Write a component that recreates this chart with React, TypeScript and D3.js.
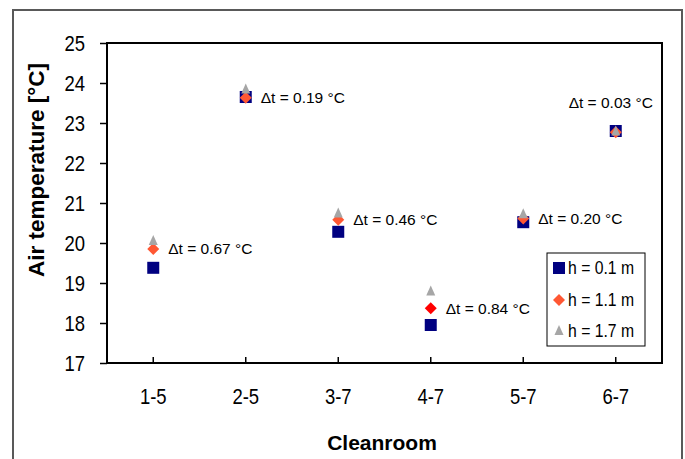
import React, { useEffect, useRef } from 'react';
import * as d3 from 'd3';

// Cleanroom air temperature at three heights
const categories = ['1-5', '2-5', '3-7', '4-7', '5-7', '6-7'];
const tempH01 = [19.38, 23.65, 20.28, 17.95, 20.52, 22.8];
const tempH11 = [19.85, 23.63, 20.58, 18.37, 20.61, 22.77];
const tempH17 = [20.05, 23.84, 20.74, 18.79, 20.72, 22.79];
const deltaLabels = [
  'Δt = 0.67 °C',
  'Δt = 0.19 °C',
  'Δt = 0.46 °C',
  'Δt = 0.84 °C',
  'Δt = 0.20 °C',
  'Δt = 0.03 °C',
];
const yTicks = [17, 18, 19, 20, 21, 22, 23, 24, 25];
const seriesNames = ['h = 0.1 m', 'h = 1.1 m', 'h = 1.7 m'];

const W = 685;
const H = 459;
const margin = { top: 43, right: 23, bottom: 96, left: 107 };

const NAVY = '#000080';
const ORANGE = '#FF5733';
const RED = '#FF0000';
const GRAY = '#A6A6A6';
const FONT = '"Liberation Sans", Arial, sans-serif';

const diamondPath = (cx: number, cy: number) =>
  `M${cx},${cy - 6}L${cx + 6},${cy}L${cx},${cy + 6}L${cx - 6},${cy}Z`;
const trianglePath = (cx: number, cy: number) =>
  `M${cx},${cy - 6}L${cx + 4.5},${cy + 4}L${cx - 4.5},${cy + 4}Z`;

// squeeze text horizontally to mimic a narrow face
const narrow = (sel: d3.Selection<any, any, any, any>, k: number) => {
  sel.each(function () {
    const t = this as SVGTextElement;
    const len = t.getComputedTextLength();
    d3.select(t).attr('textLength', len * k).attr('lengthAdjust', 'spacingAndGlyphs');
  });
};

const App: React.FC = () => {
  const svgRef = useRef<SVGSVGElement>(null);

  useEffect(() => {
    if (!svgRef.current) return;
    const svg = d3.select(svgRef.current);
    svg.selectAll('*').remove();

    const x0 = margin.left;
    const x1 = W - margin.right;
    const y0 = margin.top;
    const y1 = H - margin.bottom;

    const x = d3.scaleBand<string>().domain(categories).range([x0, x1]);
    const y = d3.scaleLinear().domain([17, 25]).range([y1, y0]);
    const cx = (c: string) => (x(c) || 0) + x.bandwidth() / 2;

    // outer frame
    svg
      .append('rect')
      .attr('x', 13)
      .attr('y', 10)
      .attr('width', 669)
      .attr('height', 470)
      .attr('fill', 'none')
      .attr('stroke', '#595959')
      .attr('stroke-width', 2);

    // plot frame
    svg
      .append('rect')
      .attr('x', x0)
      .attr('y', y0)
      .attr('width', x1 - x0)
      .attr('height', y1 - y0)
      .attr('fill', 'none')
      .attr('stroke', '#000')
      .attr('stroke-width', 2);

    // y axis
    const yAxis = svg
      .append('g')
      .attr('transform', `translate(${x0},0)`)
      .call(
        d3
          .axisLeft(y)
          .tickValues(yTicks)
          .tickSize(7)
          .tickSizeOuter(0)
          .tickPadding(15)
          .tickFormat(d3.format('d'))
      );
    yAxis.select('.domain').remove();
    yAxis.selectAll('line').attr('stroke', '#000').attr('stroke-width', 1.5);
    const yText = yAxis
      .selectAll('text')
      .attr('font-family', FONT)
      .attr('font-size', 22)
      .attr('fill', '#000');
    narrow(yText, 0.84);

    // x axis (ticks pointing inward)
    const xAxis = svg
      .append('g')
      .attr('transform', `translate(0,${y1})`)
      .call(d3.axisBottom(x).tickSize(-6).tickSizeOuter(0).tickPadding(0));
    xAxis.select('.domain').remove();
    xAxis.selectAll('line').attr('stroke', '#000').attr('stroke-width', 1.5);
    const xText = xAxis
      .selectAll('text')
      .attr('font-family', FONT)
      .attr('font-size', 22)
      .attr('fill', '#000')
      .attr('dy', '1.85em');
    narrow(xText, 0.84);

    // axis titles
    svg
      .append('text')
      .attr('transform', `translate(44,${(y0 + y1) / 2 - 33}) rotate(-90)`)
      .attr('text-anchor', 'middle')
      .attr('font-family', FONT)
      .attr('font-weight', 'bold')
      .attr('font-size', 22.5)
      .text('Air temperature [°C]');

    svg
      .append('text')
      .attr('x', 382)
      .attr('y', 450)
      .attr('text-anchor', 'middle')
      .attr('font-family', FONT)
      .attr('font-weight', 'bold')
      .attr('font-size', 21)
      .text('Cleanroom');

    // markers
    svg
      .append('g')
      .selectAll('rect')
      .data(categories)
      .enter()
      .append('rect')
      .attr('x', (c) => cx(c) - 6)
      .attr('y', (c, i) => y(tempH01[i]) - 6)
      .attr('width', 12)
      .attr('height', 12)
      .attr('fill', NAVY);

    svg
      .append('g')
      .selectAll('path')
      .data(categories)
      .enter()
      .append('path')
      .attr('d', (c, i) => diamondPath(cx(c), y(tempH11[i])))
      .attr('fill', (c) => (c === '4-7' ? RED : ORANGE));

    svg
      .append('g')
      .selectAll('path')
      .data(categories)
      .enter()
      .append('path')
      .attr('d', (c, i) => trianglePath(cx(c), y(tempH17[i])))
      .attr('fill', GRAY);

    // delta annotations
    const last = categories.length - 1;
    svg
      .append('g')
      .selectAll('text')
      .data(categories)
      .enter()
      .append('text')
      .attr('x', (c, i) => (i === last ? cx(c) - 5 : cx(c) + 15))
      .attr('y', (c, i) => (i === last ? y(tempH11[i]) - 30 : y(tempH11[i])))
      .attr('dy', '0.35em')
      .attr('text-anchor', (c, i) => (i === last ? 'middle' : 'start'))
      .attr('font-family', FONT)
      .attr('font-size', 15.5)
      .attr('fill', '#000')
      .text((c, i) => deltaLabels[i]);

    // legend
    const lg = svg.append('g').attr('transform', 'translate(547,253)');
    lg.append('rect')
      .attr('width', 98)
      .attr('height', 93)
      .attr('fill', '#fff')
      .attr('stroke', '#000')
      .attr('stroke-width', 1);
    const rowY = [15, 47, 78];
    lg.append('rect').attr('x', 6).attr('y', rowY[0] - 6).attr('width', 12).attr('height', 12).attr('fill', NAVY);
    lg.append('path').attr('d', diamondPath(12, rowY[1])).attr('fill', ORANGE);
    lg.append('path').attr('d', trianglePath(12, rowY[2])).attr('fill', GRAY);
    const lgText = lg
      .selectAll('text.lbl')
      .data(seriesNames)
      .enter()
      .append('text')
      .attr('class', 'lbl')
      .attr('x', 21)
      .attr('y', (d, i) => rowY[i])
      .attr('dy', '0.35em')
      .attr('font-family', FONT)
      .attr('font-size', 17.5)
      .attr('fill', '#000')
      .text((d) => d);
    narrow(lgText, 0.9);
  }, []);

  return (
    <svg
      ref={svgRef}
      width={W}
      height={H}
      style={{ position: 'absolute', left: 0, top: 0, background: '#fff' }}
    />
  );
};

export default App;
